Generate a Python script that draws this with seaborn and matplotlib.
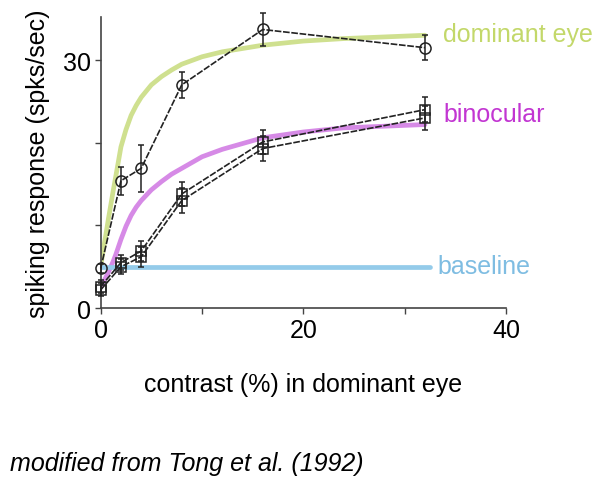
import numpy as np
import pandas as pd
import matplotlib
matplotlib.use('Agg')
import matplotlib.pyplot as plt
import seaborn as sns

contrast = [0, 2, 4, 8, 16, 32]
dominant_resp = [4.8, 15.4, 16.9, 27.0, 33.7, 31.5]
dominant_err = [0.5, 1.7, 2.8, 1.6, 2.0, 1.5]
binoc_a_resp = [2.2, 5.0, 6.2, 13.0, 19.3, 23.0]
binoc_a_err = [0.8, 0.9, 1.2, 1.5, 1.5, 1.5]
binoc_b_resp = [2.6, 5.5, 6.9, 13.8, 20.1, 24.0]
binoc_b_err = [0.8, 0.9, 1.2, 1.5, 1.5, 1.5]

# fitted curves (traced)
fit_x = [0, 0.25, 0.5, 0.75, 1, 1.25, 1.5, 2, 2.5, 3, 3.5, 4, 5, 6, 7, 8, 10,
         12, 14, 16, 20, 24, 28, 32]
fit_dominant = [5.0, 7.0, 8.8, 10.7, 12.5, 14.3, 16.0, 19.5, 21.6, 23.3, 24.5,
                25.5, 27.0, 28.0, 28.8, 29.5, 30.4, 31.0, 31.4, 31.8, 32.3,
                32.6, 32.8, 33.0]
fit_binocular = [2.5, 3.1, 3.7, 4.3, 5.0, 5.7, 6.5, 8.3, 9.9, 11.2, 12.2,
                 13.0, 14.3, 15.3, 16.2, 16.9, 18.3, 19.2, 19.9, 20.6, 21.3,
                 21.8, 22.0, 22.2]
baseline_x = [0, 32.5]
baseline_y = [5.0, 5.0]

green = '#cfe08f'
magenta = '#d68ae6'
blue = '#94cbea'

sns.set_theme(style='ticks')
plt.rcParams['font.family'] = ['Liberation Sans', 'DejaVu Sans']
plt.rcParams['text.color'] = 'black'
plt.rcParams['axes.labelcolor'] = 'black'

fig = plt.figure(figsize=(6.04, 4.89), dpi=100)
ax = fig.add_axes([0.1667, 0.368, 0.671, 0.595])

fits = pd.DataFrame({'contrast': fit_x, 'dominant': fit_dominant, 'binocular': fit_binocular})
sns.lineplot(data=fits, x='contrast', y='dominant', color=green, lw=3.4, ax=ax, zorder=2)
sns.lineplot(data=fits, x='contrast', y='binocular', color=magenta, lw=3.4, ax=ax, zorder=2)
sns.lineplot(x=baseline_x, y=baseline_y, color=blue, lw=3.4, ax=ax, zorder=2)

dash = (0, (4, 1))
for resp, err, mk, size in [(dominant_resp, dominant_err, 'o', 8),
                            (binoc_a_resp, binoc_a_err, 's', 7),
                            (binoc_b_resp, binoc_b_err, 's', 7)]:
    ax.errorbar(contrast, resp, yerr=err, fmt=mk, ms=size, mfc='none',
                mec='#222222', mew=1.1, color='#222222', ls=dash, lw=1.2,
                capsize=2, elinewidth=1.1, zorder=3, clip_on=False)

ax.text(33.8, 33.1, 'dominant eye', color='#c3d86a', fontsize=18, va='center')
ax.text(33.8, 23.5, 'binocular', color='#c236d2', fontsize=18, va='center')
ax.text(33.2, 5.1, 'baseline', color='#7fbde2', fontsize=18, va='center')

ax.set_xlim(0, 40)
ax.set_ylim(0, 35.2)
ax.set_xticks([0, 10, 20, 30, 40])
ax.set_xticklabels(['0', '', '20', '', '40'])
ax.set_yticks([0, 10, 20, 30])
ax.set_yticklabels(['0', '', '', '30'])
ax.tick_params(direction='out', length=4, width=1, colors='#444444',
               labelcolor='black', labelsize=18, pad=3)
for s in ['top', 'right']:
    ax.spines[s].set_visible(False)
for s in ['left', 'bottom']:
    ax.spines[s].set_color('#444444')
    ax.spines[s].set_linewidth(1.2)

ax.set_xlabel('contrast (%) in dominant eye', fontsize=18, labelpad=22)
ax.set_ylabel('spiking response (spks/sec)', fontsize=18, labelpad=9)

fig.text(0.017, 0.051, 'modified from Tong et al. (1992)', fontsize=18,
         style='italic', va='center')

fig.savefig('out.png', dpi=100)
